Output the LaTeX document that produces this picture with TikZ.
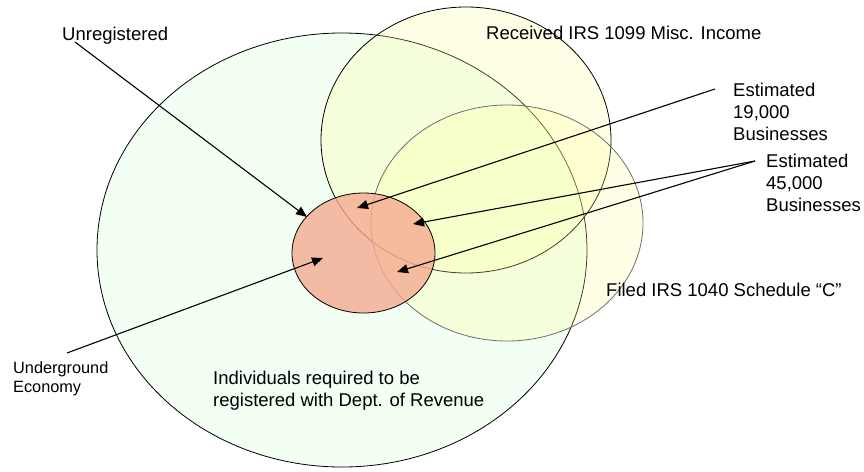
\documentclass[tikz,border=0pt]{standalone}
\usepackage{fontspec}
\setmainfont{Liberation Sans}
\usetikzlibrary{shapes.geometric,arrows.meta}
\definecolor{crowdfill}{HTML}{F2FFF2}
\definecolor{formfill}{HTML}{FFFF99}
\definecolor{hiddenfill}{HTML}{F5AB91}
\definecolor{formline}{HTML}{6E6E6E}

\begin{document}
\begin{tikzpicture}[x=1pt,y=-1pt,->,>={Triangle[length=11pt,width=9pt]},
    set node/.style={ellipse,draw,inner sep=0pt,line width=0.8pt},
    label node/.style={anchor=base west,inner sep=0pt,align=left,
      font=\fontsize{18.5}{21.8}\selectfont},
    small node/.style={label node,font=\fontsize{16.3}{19}\selectfont},
    pointer/.style={line width=1.1pt}]
  \useasboundingbox (0,0) rectangle (864,471);

  % Define sets
  \node[set node,fill=crowdfill,minimum width=490pt,minimum height=434pt] (individuals) at (342,250) {};
  \node[set node,fill=formfill,fill opacity=0.25,minimum width=290pt,minimum height=266pt] (misc) at (466,140) {};
  \node[set node,draw=formline,fill=formfill,fill opacity=0.25,minimum width=272pt,minimum height=236pt] (schedc) at (507,223) {};
  \node[set node,fill=hiddenfill,fill opacity=0.8,minimum width=143pt,minimum height=120pt] (hidden) at (363.5,253) {};

  % Define labels (base of last line)
  \node[label node] (unreg) at (62,40) {Unregistered};
  \node[label node] (received) at (486,39) {Received IRS 1099 Misc. Income};
  \node[label node] (est19) at (733,140) {Estimated\\19,000\\Businesses};
  \node[label node] (est45) at (766,211) {Estimated\\45,000\\Businesses};
  \node[label node] (filed) at (606,296) {Filed IRS 1040 Schedule ``C''};
  \node[label node] (indiv) at (213,406) {Individuals required to be\\registered with Dept. of Revenue};
  \node[small node] (under) at (13,392) {Underground\\Economy};

  % Arrow tips
  \coordinate (tipUnreg) at (307,217);
  \coordinate (tipMisc) at (357,208);
  \coordinate (tipBoth) at (413,224);
  \coordinate (tipSched) at (397,272);
  \coordinate (tipUnder) at (323,258);

  % Draw pointers
  \draw[pointer] ([xshift=13pt,yshift=-2pt]unreg.base west) -- (tipUnreg);
  \draw[pointer] ([xshift=-18pt,yshift=51pt]est19.base west) -- (tipMisc);
  \draw[pointer] ([xshift=-11pt,yshift=50pt]est45.base west) -- (tipBoth);
  \draw[pointer] ([xshift=-11pt,yshift=50pt]est45.base west) -- (tipSched);
  \draw[pointer] ([xshift=54pt,yshift=39pt]under.base west) -- (tipUnder);

\end{tikzpicture}
\end{document}
